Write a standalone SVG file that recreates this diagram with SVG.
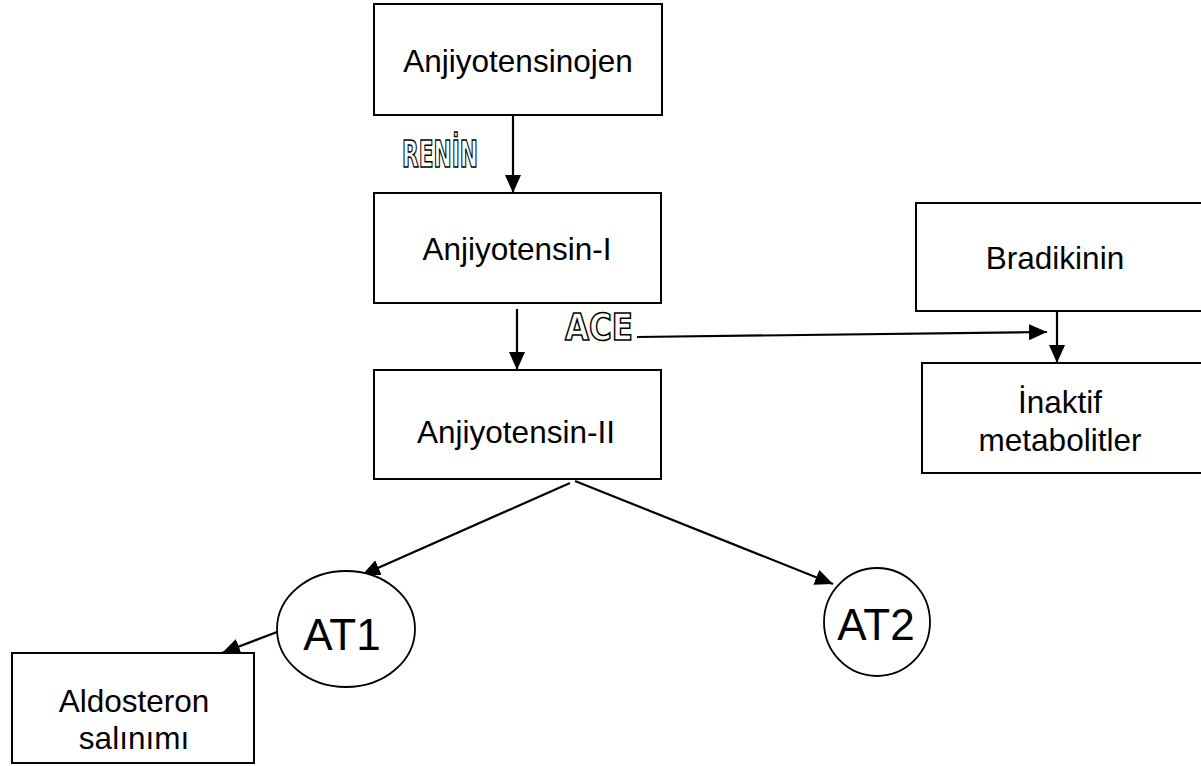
<svg xmlns="http://www.w3.org/2000/svg" width="1201" height="766" viewBox="0 0 1201 766">
<style>
.box{fill:#fff;stroke:#000;stroke-width:2}
.ell{fill:#fff;stroke:#000;stroke-width:1.8}
.t{font-family:"Liberation Sans",Arial,sans-serif;font-size:31.5px;fill:#000;text-anchor:middle}
.big{font-family:"Liberation Sans",Arial,sans-serif;font-size:44px;fill:#000;text-anchor:middle}
.ol{font-family:"Liberation Sans Narrow","DejaVu Sans Condensed","Liberation Sans",sans-serif;font-weight:bold;font-size:37px;fill:#fff;stroke:#000;stroke-width:1.5}
.c{fill:none;stroke:#000;stroke-width:2.2}
</style>
<defs>
<marker id="ah" markerUnits="userSpaceOnUse" markerWidth="20" markerHeight="16" refX="18" refY="8" orient="auto">
<path d="M0,0 L18,8 L0,16 Z" fill="#000"/>
</marker>
</defs>
<rect width="1201" height="766" fill="#fff"/>
<g id="connectors">
<line class="c" x1="513" y1="115" x2="513" y2="193" marker-end="url(#ah)"/>
<line class="c" x1="517" y1="309" x2="517" y2="370" marker-end="url(#ah)"/>
<line class="c" x1="637" y1="337" x2="1047" y2="332" marker-end="url(#ah)"/>
<line class="c" x1="1057" y1="307" x2="1057" y2="363" marker-end="url(#ah)"/>
<line class="c" x1="570" y1="483" x2="362" y2="575" marker-end="url(#ah)"/>
<line class="c" x1="575" y1="481" x2="833" y2="584" marker-end="url(#ah)"/>
<line class="c" x1="277" y1="632" x2="222" y2="653" marker-end="url(#ah)"/>
</g>
<g id="renin"><text class="ol" x="402" y="167" textLength="76" lengthAdjust="spacingAndGlyphs">RENİN</text></g>
<g id="ace"><text class="ol" x="565" y="340" textLength="68" lengthAdjust="spacingAndGlyphs">ACE</text></g>
<g id="anjiyotensinojen"><rect class="box" x="374" y="4" width="288" height="111"/><text class="t" x="518" y="72">Anjiyotensinojen</text></g>
<g id="anjiyotensin1"><rect class="box" x="374" y="193" width="287" height="110"/><text class="t" x="517" y="260">Anjiyotensin-I</text></g>
<g id="anjiyotensin2"><rect class="box" x="374" y="370" width="287" height="109"/><text class="t" x="516" y="443">Anjiyotensin-II</text></g>
<g id="bradikinin"><rect class="box" x="916" y="203" width="290" height="108"/><text class="t" x="1055" y="269">Bradikinin</text></g>
<g id="inaktif"><rect class="box" x="922" y="363" width="284" height="110"/><text class="t" x="1060" y="413">İnaktif</text><text class="t" x="1060" y="451">metabolitler</text></g>
<g id="at1"><ellipse class="ell" cx="346" cy="629" rx="69" ry="58"/><text class="big" x="342" y="650">AT1</text></g>
<g id="at2"><ellipse class="ell" cx="877" cy="622" rx="53" ry="54"/><text class="big" x="876" y="640">AT2</text></g>
<g id="aldosteron"><rect class="box" x="12" y="653" width="242" height="110"/><text class="t" x="134" y="712">Aldosteron</text><text class="t" x="134" y="749">salınımı</text></g>
</svg>
